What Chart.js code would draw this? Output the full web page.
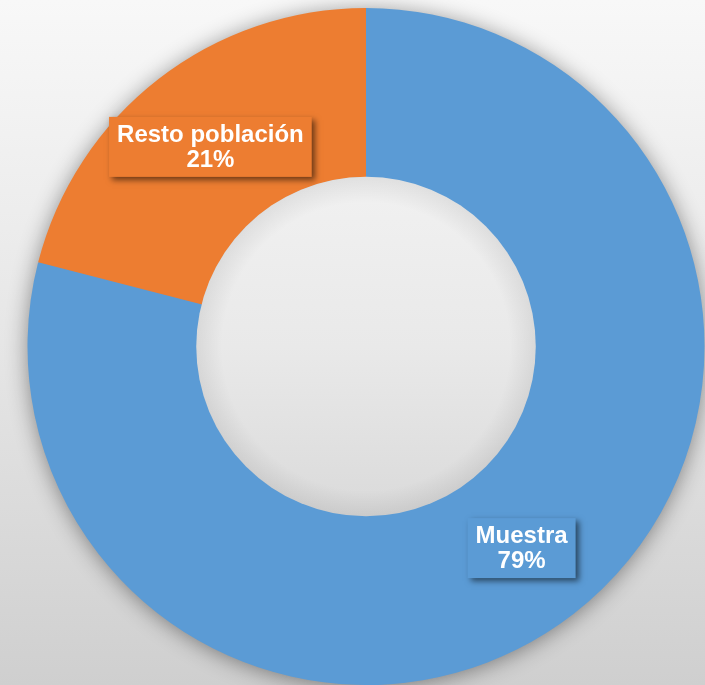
<!DOCTYPE html>
<html>
<head>
<meta charset="utf-8">
<script src="https://cdn.jsdelivr.net/npm/chart.js@4"></script>
<style>
  html, body { margin: 0; padding: 0; }
  body { width: 705px; height: 685px; overflow: hidden; }
  #donut { display: block; }
</style>
</head>
<body>
<canvas id="donut" width="705" height="685"></canvas>
<script>
const CHART = document.getElementById('donut')

const labels = ['Muestra', 'Resto población']
const values = [79, 21]
const colors = ['#5B9BD5', '#ED7D31']

// page background + soft shadow under the ring
const backdrop = {
    id: 'backdrop',
    beforeDraw(chart) {
        const ctx = chart.ctx
        const g = ctx.createLinearGradient(0, 0, 0, chart.height)
        g.addColorStop(0, '#f8f8f8')
        g.addColorStop(0.5, '#e6e6e6')
        g.addColorStop(1, '#cfcfcf')
        ctx.save()
        ctx.fillStyle = g
        ctx.fillRect(0, 0, chart.width, chart.height)
        ctx.restore()
    },
    beforeDatasetsDraw(chart) {
        const arc = chart.getDatasetMeta(0).data[0]
        if (!arc) return
        const ctx = chart.ctx
        ctx.save()
        ctx.shadowColor = 'rgba(0,0,0,0.45)'
        ctx.shadowBlur = 22
        ctx.shadowOffsetX = 0
        ctx.shadowOffsetY = 2
        ctx.fillStyle = colors[0]
        ctx.beginPath()
        ctx.arc(arc.x, arc.y, arc.outerRadius - 1, 0, Math.PI * 2)
        ctx.fill()
        ctx.restore()
    },
    afterDatasetsDraw(chart) {
        // the hole, a bit shaded like in the original
        const arc = chart.getDatasetMeta(0).data[0]
        if (!arc) return
        const ctx = chart.ctx
        const r = arc.innerRadius
        ctx.save()
        const g = ctx.createLinearGradient(0, arc.y - r, 0, arc.y + r)
        g.addColorStop(0, '#f1f1f1')
        g.addColorStop(0.5, '#e9e9e9')
        g.addColorStop(1, '#dadada')
        ctx.fillStyle = g
        ctx.beginPath()
        ctx.arc(arc.x, arc.y, r + 0.5, 0, Math.PI * 2)
        ctx.fill()
        const rim = ctx.createRadialGradient(arc.x, arc.y, r * 0.85, arc.x, arc.y, r)
        rim.addColorStop(0, 'rgba(0,0,0,0)')
        rim.addColorStop(1, 'rgba(0,0,0,0.07)')
        ctx.fillStyle = rim
        ctx.fill()
        ctx.restore()
    }
}

// boxed data labels: name + percent
const boxLabels = {
    id: 'boxLabels',
    afterDraw(chart) {
        const ctx = chart.ctx
        const meta = chart.getDatasetMeta(0)
        const total = values.reduce((a, b) => a + b, 0)
        ctx.save()
        ctx.font = 'bold 24px "Liberation Sans", Arial, sans-serif'
        ctx.textAlign = 'center'
        ctx.textBaseline = 'middle'
        meta.data.forEach((arc, i) => {
            const p = arc.tooltipPosition()
            const lines = [labels[i], Math.round(values[i] / total * 100) + '%']
            const w = Math.max(...lines.map(t => ctx.measureText(t).width)) + 16
            const lh = 25
            const h = lines.length * lh + 10
            ctx.save()
            ctx.shadowColor = 'rgba(0,0,0,0.55)'
            ctx.shadowBlur = 6
            ctx.shadowOffsetX = 3
            ctx.shadowOffsetY = 3
            ctx.fillStyle = colors[i]
            ctx.fillRect(p.x - w / 2, p.y + 1 - h / 2, w, h)
            ctx.restore()
            ctx.fillStyle = '#ffffff'
            lines.forEach((t, k) => {
                ctx.fillText(t, p.x, p.y + 1 - h / 2 + 6 + lh / 2 + k * lh)
            })
        })
        ctx.restore()
    }
}

let donut = new Chart(CHART, {
    type: 'doughnut',
    data: {
        labels: labels,
        datasets: [
            {
                data: values,
                backgroundColor: colors,
                borderWidth: 0
            }
        ]
    },
    options: {
        responsive: false,
        animation: false,
        cutout: '50%',
        layout: {
            padding: { left: 27, right: 0, top: 8, bottom: 0 }
        },
        plugins: {
            legend: { display: false },
            tooltip: { enabled: false }
        }
    },
    plugins: [backdrop, boxLabels]
})
</script>
</body>
</html>
